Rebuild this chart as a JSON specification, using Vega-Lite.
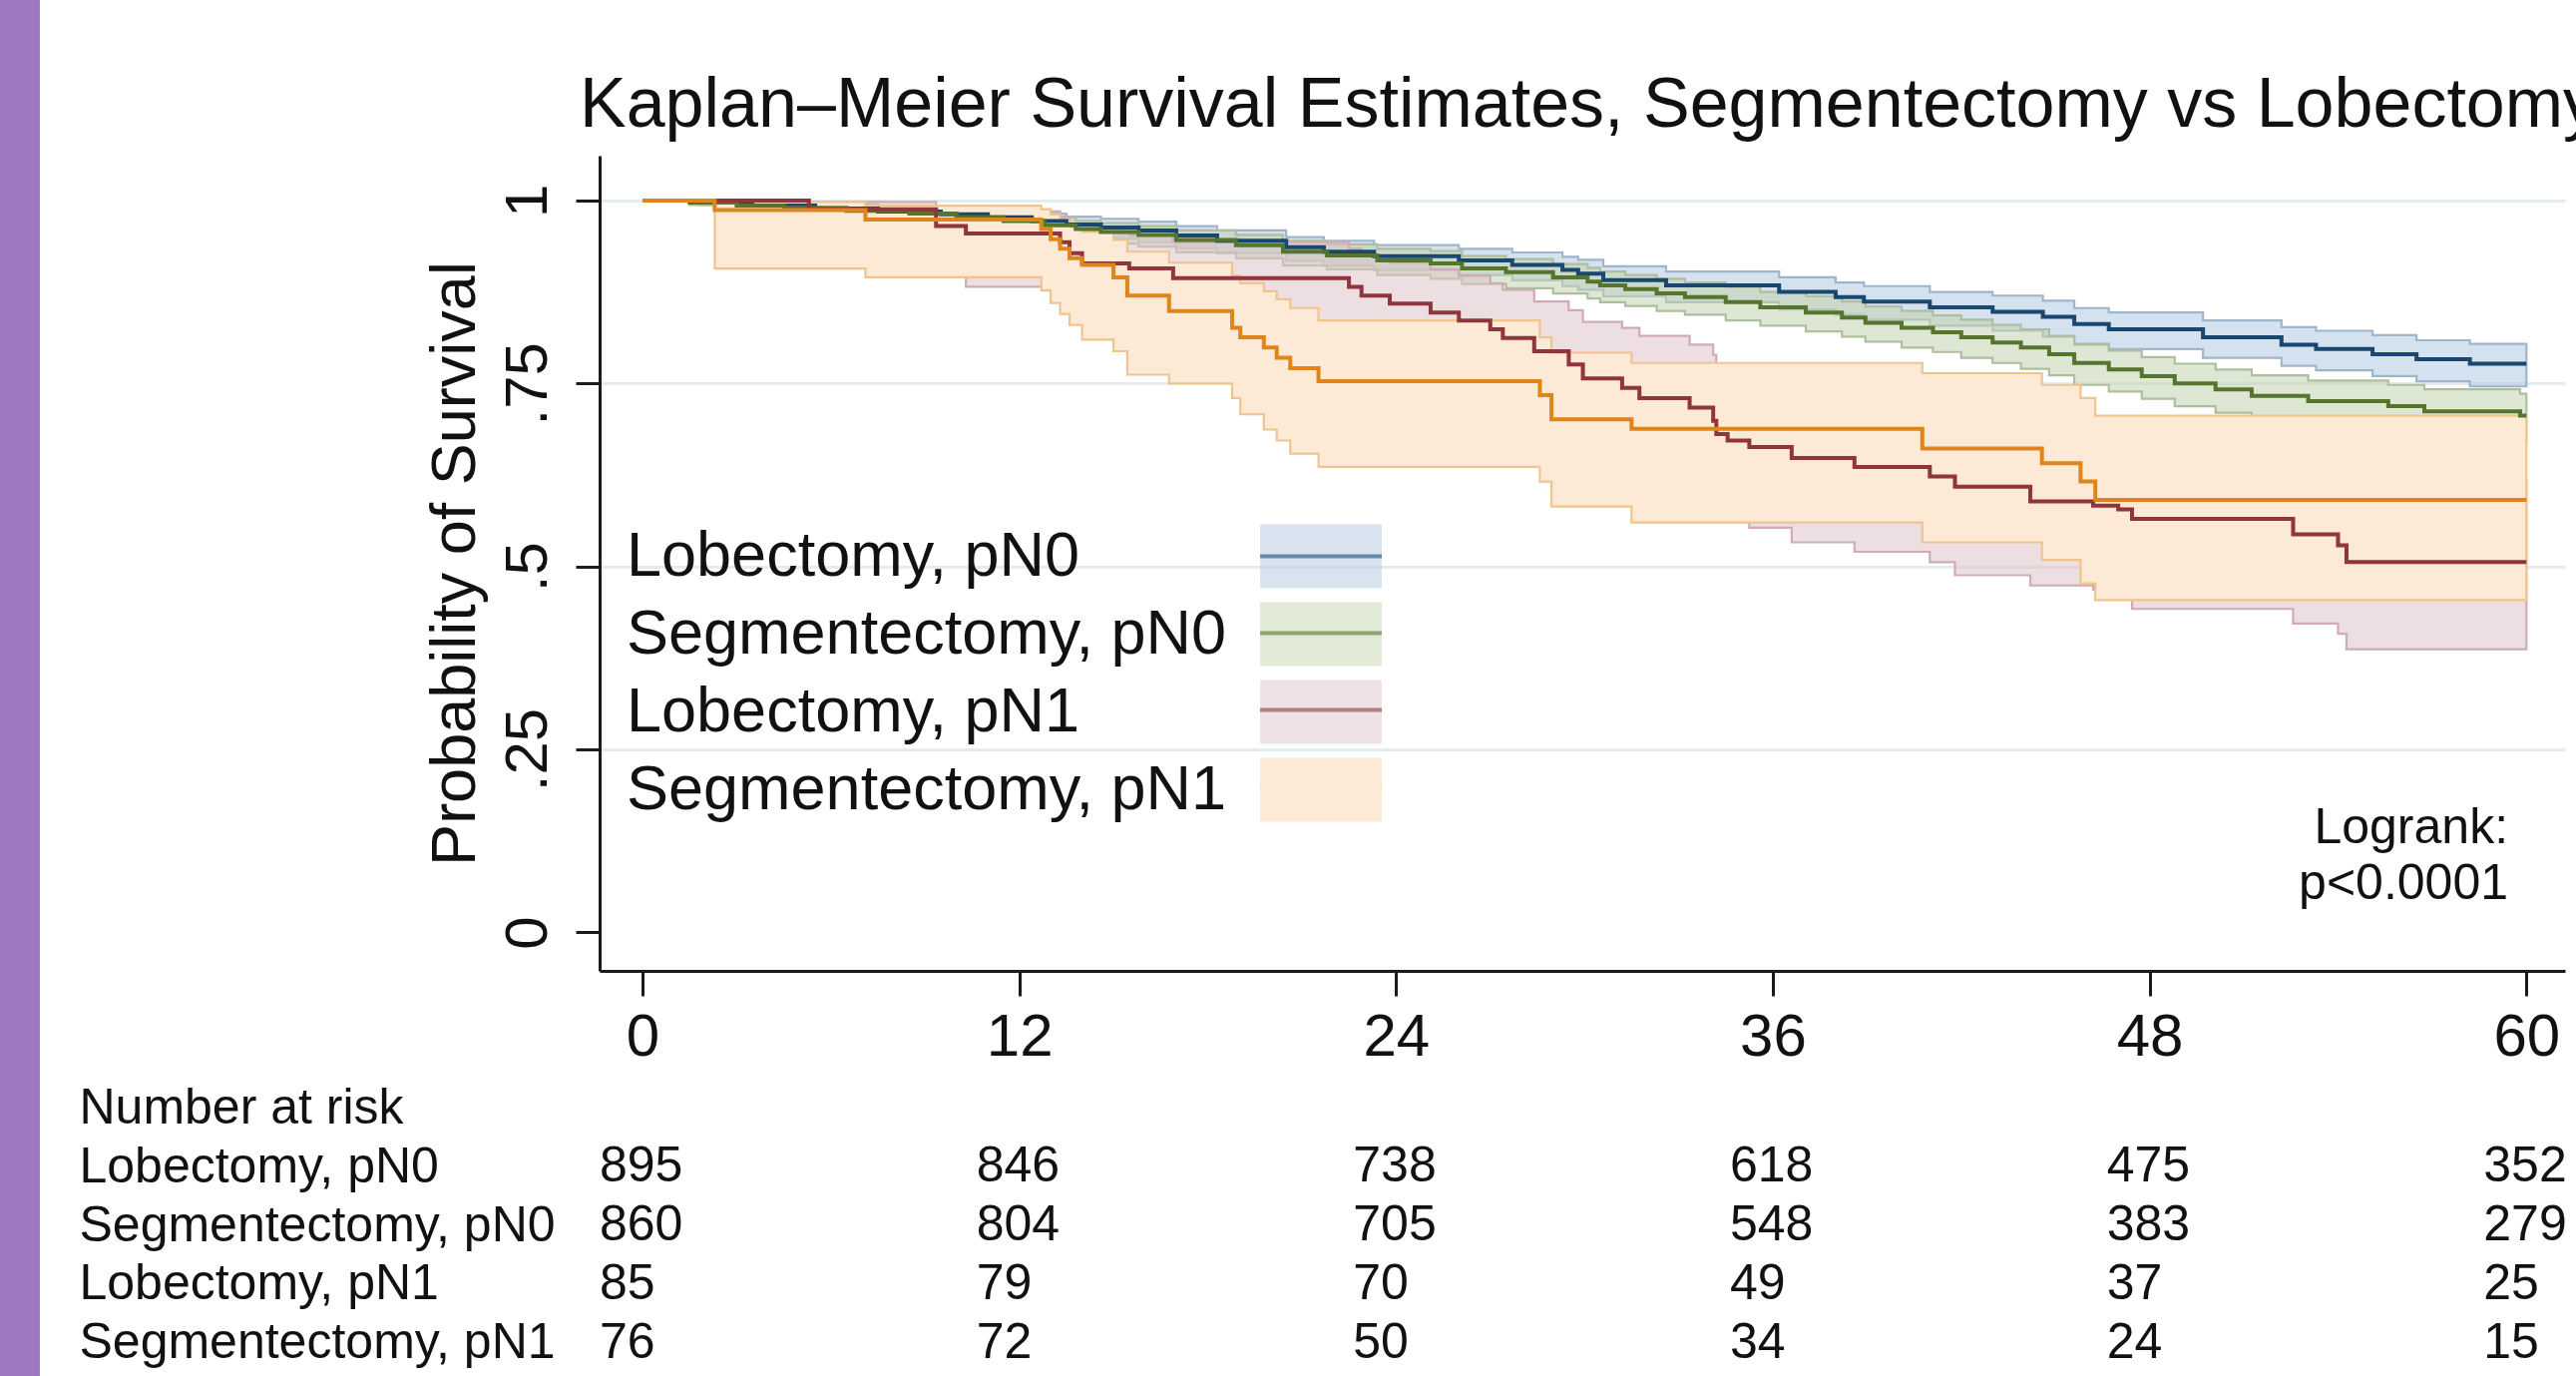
{
  "$schema": "https://vega.github.io/schema/vega-lite/v6.json",
  "autosize": {"type": "none"},
  "padding": {"left": 601, "top": 156, "right": 1981, "bottom": 1223},
  "background": "#ffffff",
  "bounds": "flush",
  "spacing": 108,
  "config": {
    "font": "Liberation Sans",
    "view": {"stroke": null},
    "text": {"font": "Liberation Sans"},
    "axis": {"labelFont": "Liberation Sans", "titleFont": "Liberation Sans"},
    "legend": {"labelFont": "Liberation Sans"},
    "title": {"font": "Liberation Sans"}
  },
  "resolve": {"scale": {"x": "independent", "y": "independent"}},
  "datasets": {
    "km": [
      {"g":"Lobectomy, pN0","t":0,"s":1,"lo":1,"hi":1},
      {"g":"Lobectomy, pN0","t":1.8,"s":0.997,"lo":0.994,"hi":0.999},
      {"g":"Lobectomy, pN0","t":3.5,"s":0.993,"lo":0.988,"hi":0.997},
      {"g":"Lobectomy, pN0","t":5.5,"s":0.989,"lo":0.981,"hi":0.995},
      {"g":"Lobectomy, pN0","t":7.5,"s":0.985,"lo":0.976,"hi":0.992},
      {"g":"Lobectomy, pN0","t":9.5,"s":0.981,"lo":0.970,"hi":0.989},
      {"g":"Lobectomy, pN0","t":11,"s":0.977,"lo":0.965,"hi":0.986},
      {"g":"Lobectomy, pN0","t":12.4,"s":0.972,"lo":0.959,"hi":0.982},
      {"g":"Lobectomy, pN0","t":13.5,"s":0.967,"lo":0.953,"hi":0.978},
      {"g":"Lobectomy, pN0","t":14.6,"s":0.963,"lo":0.948,"hi":0.975},
      {"g":"Lobectomy, pN0","t":15.8,"s":0.959,"lo":0.943,"hi":0.971},
      {"g":"Lobectomy, pN0","t":17,"s":0.952,"lo":0.935,"hi":0.965},
      {"g":"Lobectomy, pN0","t":18.3,"s":0.945,"lo":0.928,"hi":0.959},
      {"g":"Lobectomy, pN0","t":20.5,"s":0.936,"lo":0.918,"hi":0.950},
      {"g":"Lobectomy, pN0","t":21.7,"s":0.930,"lo":0.911,"hi":0.945},
      {"g":"Lobectomy, pN0","t":23.3,"s":0.924,"lo":0.905,"hi":0.939},
      {"g":"Lobectomy, pN0","t":26,"s":0.918,"lo":0.898,"hi":0.934},
      {"g":"Lobectomy, pN0","t":27.7,"s":0.912,"lo":0.891,"hi":0.929},
      {"g":"Lobectomy, pN0","t":29.3,"s":0.905,"lo":0.883,"hi":0.923},
      {"g":"Lobectomy, pN0","t":29.8,"s":0.900,"lo":0.878,"hi":0.919},
      {"g":"Lobectomy, pN0","t":30.6,"s":0.891,"lo":0.869,"hi":0.910},
      {"g":"Lobectomy, pN0","t":32.6,"s":0.884,"lo":0.861,"hi":0.903},
      {"g":"Lobectomy, pN0","t":36.2,"s":0.875,"lo":0.851,"hi":0.895},
      {"g":"Lobectomy, pN0","t":38,"s":0.868,"lo":0.844,"hi":0.888},
      {"g":"Lobectomy, pN0","t":38.9,"s":0.862,"lo":0.837,"hi":0.883},
      {"g":"Lobectomy, pN0","t":41,"s":0.854,"lo":0.829,"hi":0.875},
      {"g":"Lobectomy, pN0","t":43,"s":0.848,"lo":0.822,"hi":0.870},
      {"g":"Lobectomy, pN0","t":44.6,"s":0.841,"lo":0.814,"hi":0.863},
      {"g":"Lobectomy, pN0","t":45.6,"s":0.831,"lo":0.804,"hi":0.853},
      {"g":"Lobectomy, pN0","t":46.7,"s":0.824,"lo":0.797,"hi":0.847},
      {"g":"Lobectomy, pN0","t":49.7,"s":0.813,"lo":0.785,"hi":0.836},
      {"g":"Lobectomy, pN0","t":52.2,"s":0.803,"lo":0.774,"hi":0.827},
      {"g":"Lobectomy, pN0","t":53.3,"s":0.797,"lo":0.768,"hi":0.822},
      {"g":"Lobectomy, pN0","t":55.1,"s":0.790,"lo":0.760,"hi":0.816},
      {"g":"Lobectomy, pN0","t":56.5,"s":0.783,"lo":0.753,"hi":0.809},
      {"g":"Lobectomy, pN0","t":58.2,"s":0.777,"lo":0.746,"hi":0.804},
      {"g":"Lobectomy, pN0","t":60,"s":0.777,"lo":0.746,"hi":0.804},

      {"g":"Segmentectomy, pN0","t":0,"s":1,"lo":1,"hi":1},
      {"g":"Segmentectomy, pN0","t":1.5,"s":0.997,"lo":0.994,"hi":0.999},
      {"g":"Segmentectomy, pN0","t":3,"s":0.993,"lo":0.988,"hi":0.997},
      {"g":"Segmentectomy, pN0","t":4.5,"s":0.990,"lo":0.983,"hi":0.995},
      {"g":"Segmentectomy, pN0","t":6.5,"s":0.986,"lo":0.978,"hi":0.992},
      {"g":"Segmentectomy, pN0","t":8.5,"s":0.982,"lo":0.972,"hi":0.990},
      {"g":"Segmentectomy, pN0","t":10,"s":0.977,"lo":0.965,"hi":0.986},
      {"g":"Segmentectomy, pN0","t":11.5,"s":0.972,"lo":0.959,"hi":0.982},
      {"g":"Segmentectomy, pN0","t":12.8,"s":0.966,"lo":0.952,"hi":0.977},
      {"g":"Segmentectomy, pN0","t":13.8,"s":0.961,"lo":0.946,"hi":0.972},
      {"g":"Segmentectomy, pN0","t":14.6,"s":0.957,"lo":0.941,"hi":0.969},
      {"g":"Segmentectomy, pN0","t":15.8,"s":0.953,"lo":0.937,"hi":0.965},
      {"g":"Segmentectomy, pN0","t":17,"s":0.946,"lo":0.929,"hi":0.959},
      {"g":"Segmentectomy, pN0","t":18.9,"s":0.939,"lo":0.921,"hi":0.953},
      {"g":"Segmentectomy, pN0","t":20.4,"s":0.930,"lo":0.911,"hi":0.945},
      {"g":"Segmentectomy, pN0","t":21.8,"s":0.925,"lo":0.906,"hi":0.940},
      {"g":"Segmentectomy, pN0","t":23.4,"s":0.918,"lo":0.898,"hi":0.934},
      {"g":"Segmentectomy, pN0","t":25.1,"s":0.914,"lo":0.893,"hi":0.931},
      {"g":"Segmentectomy, pN0","t":26.1,"s":0.907,"lo":0.886,"hi":0.924},
      {"g":"Segmentectomy, pN0","t":27.5,"s":0.902,"lo":0.880,"hi":0.920},
      {"g":"Segmentectomy, pN0","t":29,"s":0.895,"lo":0.873,"hi":0.913},
      {"g":"Segmentectomy, pN0","t":30.1,"s":0.889,"lo":0.866,"hi":0.908},
      {"g":"Segmentectomy, pN0","t":30.5,"s":0.884,"lo":0.861,"hi":0.903},
      {"g":"Segmentectomy, pN0","t":31.3,"s":0.879,"lo":0.856,"hi":0.898},
      {"g":"Segmentectomy, pN0","t":32.3,"s":0.873,"lo":0.849,"hi":0.893},
      {"g":"Segmentectomy, pN0","t":33.2,"s":0.868,"lo":0.844,"hi":0.888},
      {"g":"Segmentectomy, pN0","t":34.5,"s":0.861,"lo":0.836,"hi":0.882},
      {"g":"Segmentectomy, pN0","t":35.6,"s":0.854,"lo":0.829,"hi":0.875},
      {"g":"Segmentectomy, pN0","t":37.05,"s":0.847,"lo":0.821,"hi":0.869},
      {"g":"Segmentectomy, pN0","t":38.2,"s":0.840,"lo":0.814,"hi":0.862},
      {"g":"Segmentectomy, pN0","t":38.95,"s":0.833,"lo":0.807,"hi":0.855},
      {"g":"Segmentectomy, pN0","t":40.1,"s":0.826,"lo":0.799,"hi":0.849},
      {"g":"Segmentectomy, pN0","t":41.1,"s":0.820,"lo":0.793,"hi":0.843},
      {"g":"Segmentectomy, pN0","t":42,"s":0.813,"lo":0.785,"hi":0.837},
      {"g":"Segmentectomy, pN0","t":43,"s":0.806,"lo":0.778,"hi":0.830},
      {"g":"Segmentectomy, pN0","t":43.9,"s":0.799,"lo":0.770,"hi":0.824},
      {"g":"Segmentectomy, pN0","t":44.8,"s":0.790,"lo":0.761,"hi":0.815},
      {"g":"Segmentectomy, pN0","t":45.6,"s":0.778,"lo":0.748,"hi":0.803},
      {"g":"Segmentectomy, pN0","t":46.7,"s":0.769,"lo":0.739,"hi":0.795},
      {"g":"Segmentectomy, pN0","t":47.75,"s":0.760,"lo":0.729,"hi":0.786},
      {"g":"Segmentectomy, pN0","t":48.8,"s":0.750,"lo":0.719,"hi":0.777},
      {"g":"Segmentectomy, pN0","t":50.1,"s":0.742,"lo":0.710,"hi":0.769},
      {"g":"Segmentectomy, pN0","t":51.25,"s":0.733,"lo":0.701,"hi":0.761},
      {"g":"Segmentectomy, pN0","t":53.05,"s":0.726,"lo":0.693,"hi":0.754},
      {"g":"Segmentectomy, pN0","t":55.6,"s":0.719,"lo":0.685,"hi":0.748},
      {"g":"Segmentectomy, pN0","t":56.75,"s":0.712,"lo":0.678,"hi":0.742},
      {"g":"Segmentectomy, pN0","t":59.8,"s":0.706,"lo":0.671,"hi":0.736},
      {"g":"Segmentectomy, pN0","t":60,"s":0.706,"lo":0.671,"hi":0.736},

      {"g":"Lobectomy, pN1","t":0,"s":1,"lo":1,"hi":1},
      {"g":"Lobectomy, pN1","t":5.3,"s":0.988,"lo":0.920,"hi":0.998},
      {"g":"Lobectomy, pN1","t":9.35,"s":0.965,"lo":0.895,"hi":0.990},
      {"g":"Lobectomy, pN1","t":10.3,"s":0.955,"lo":0.882,"hi":0.985},
      {"g":"Lobectomy, pN1","t":13.3,"s":0.943,"lo":0.868,"hi":0.978},
      {"g":"Lobectomy, pN1","t":13.6,"s":0.928,"lo":0.851,"hi":0.968},
      {"g":"Lobectomy, pN1","t":14,"s":0.914,"lo":0.835,"hi":0.958},
      {"g":"Lobectomy, pN1","t":15.5,"s":0.907,"lo":0.827,"hi":0.953},
      {"g":"Lobectomy, pN1","t":16.9,"s":0.894,"lo":0.812,"hi":0.943},
      {"g":"Lobectomy, pN1","t":22.5,"s":0.882,"lo":0.799,"hi":0.934},
      {"g":"Lobectomy, pN1","t":22.9,"s":0.870,"lo":0.785,"hi":0.924},
      {"g":"Lobectomy, pN1","t":23.8,"s":0.859,"lo":0.772,"hi":0.915},
      {"g":"Lobectomy, pN1","t":25.1,"s":0.847,"lo":0.759,"hi":0.906},
      {"g":"Lobectomy, pN1","t":26,"s":0.836,"lo":0.747,"hi":0.897},
      {"g":"Lobectomy, pN1","t":27,"s":0.824,"lo":0.734,"hi":0.887},
      {"g":"Lobectomy, pN1","t":27.4,"s":0.812,"lo":0.721,"hi":0.878},
      {"g":"Lobectomy, pN1","t":28.4,"s":0.794,"lo":0.702,"hi":0.862},
      {"g":"Lobectomy, pN1","t":29.5,"s":0.776,"lo":0.682,"hi":0.850},
      {"g":"Lobectomy, pN1","t":29.95,"s":0.757,"lo":0.662,"hi":0.834},
      {"g":"Lobectomy, pN1","t":31.2,"s":0.744,"lo":0.648,"hi":0.826},
      {"g":"Lobectomy, pN1","t":31.75,"s":0.730,"lo":0.634,"hi":0.815},
      {"g":"Lobectomy, pN1","t":33.35,"s":0.717,"lo":0.620,"hi":0.803},
      {"g":"Lobectomy, pN1","t":34.1,"s":0.699,"lo":0.601,"hi":0.789},
      {"g":"Lobectomy, pN1","t":34.2,"s":0.681,"lo":0.582,"hi":0.773},
      {"g":"Lobectomy, pN1","t":34.56,"s":0.672,"lo":0.573,"hi":0.765},
      {"g":"Lobectomy, pN1","t":35.25,"s":0.663,"lo":0.553,"hi":0.757},
      {"g":"Lobectomy, pN1","t":36.6,"s":0.648,"lo":0.533,"hi":0.744},
      {"g":"Lobectomy, pN1","t":38.6,"s":0.636,"lo":0.520,"hi":0.734},
      {"g":"Lobectomy, pN1","t":41,"s":0.623,"lo":0.506,"hi":0.722},
      {"g":"Lobectomy, pN1","t":41.8,"s":0.609,"lo":0.488,"hi":0.710},
      {"g":"Lobectomy, pN1","t":44.2,"s":0.589,"lo":0.474,"hi":0.692},
      {"g":"Lobectomy, pN1","t":46.2,"s":0.583,"lo":0.468,"hi":0.686},
      {"g":"Lobectomy, pN1","t":47,"s":0.578,"lo":0.462,"hi":0.682},
      {"g":"Lobectomy, pN1","t":47.44,"s":0.565,"lo":0.442,"hi":0.670},
      {"g":"Lobectomy, pN1","t":52.57,"s":0.544,"lo":0.422,"hi":0.652},
      {"g":"Lobectomy, pN1","t":54,"s":0.529,"lo":0.408,"hi":0.638},
      {"g":"Lobectomy, pN1","t":54.27,"s":0.506,"lo":0.387,"hi":0.617},
      {"g":"Lobectomy, pN1","t":60,"s":0.506,"lo":0.387,"hi":0.617},

      {"g":"Segmentectomy, pN1","t":0,"s":1,"lo":1,"hi":1},
      {"g":"Segmentectomy, pN1","t":2.3,"s":0.987,"lo":0.907,"hi":0.998},
      {"g":"Segmentectomy, pN1","t":7.1,"s":0.974,"lo":0.895,"hi":0.993},
      {"g":"Segmentectomy, pN1","t":12.7,"s":0.961,"lo":0.877,"hi":0.988},
      {"g":"Segmentectomy, pN1","t":13,"s":0.947,"lo":0.860,"hi":0.981},
      {"g":"Segmentectomy, pN1","t":13.3,"s":0.934,"lo":0.845,"hi":0.973},
      {"g":"Segmentectomy, pN1","t":13.6,"s":0.921,"lo":0.830,"hi":0.964},
      {"g":"Segmentectomy, pN1","t":14,"s":0.912,"lo":0.810,"hi":0.957},
      {"g":"Segmentectomy, pN1","t":15,"s":0.895,"lo":0.794,"hi":0.946},
      {"g":"Segmentectomy, pN1","t":15.44,"s":0.870,"lo":0.762,"hi":0.930},
      {"g":"Segmentectomy, pN1","t":16.77,"s":0.849,"lo":0.750,"hi":0.915},
      {"g":"Segmentectomy, pN1","t":18.78,"s":0.826,"lo":0.730,"hi":0.897},
      {"g":"Segmentectomy, pN1","t":19.04,"s":0.813,"lo":0.708,"hi":0.887},
      {"g":"Segmentectomy, pN1","t":19.79,"s":0.799,"lo":0.687,"hi":0.876},
      {"g":"Segmentectomy, pN1","t":20.2,"s":0.785,"lo":0.672,"hi":0.865},
      {"g":"Segmentectomy, pN1","t":20.63,"s":0.771,"lo":0.654,"hi":0.853},
      {"g":"Segmentectomy, pN1","t":21.53,"s":0.753,"lo":0.636,"hi":0.836},
      {"g":"Segmentectomy, pN1","t":28.58,"s":0.734,"lo":0.616,"hi":0.813},
      {"g":"Segmentectomy, pN1","t":28.95,"s":0.701,"lo":0.582,"hi":0.792},
      {"g":"Segmentectomy, pN1","t":31.5,"s":0.688,"lo":0.560,"hi":0.778},
      {"g":"Segmentectomy, pN1","t":40.76,"s":0.661,"lo":0.533,"hi":0.764},
      {"g":"Segmentectomy, pN1","t":44.57,"s":0.641,"lo":0.509,"hi":0.748},
      {"g":"Segmentectomy, pN1","t":45.8,"s":0.616,"lo":0.477,"hi":0.730},
      {"g":"Segmentectomy, pN1","t":46.27,"s":0.591,"lo":0.454,"hi":0.706},
      {"g":"Segmentectomy, pN1","t":60,"s":0.591,"lo":0.454,"hi":0.706}
    ],
    "risk": [
      {"g":"Lobectomy, pN0","time":0,"n":895},{"g":"Lobectomy, pN0","time":12,"n":846},{"g":"Lobectomy, pN0","time":24,"n":738},{"g":"Lobectomy, pN0","time":36,"n":618},{"g":"Lobectomy, pN0","time":48,"n":475},{"g":"Lobectomy, pN0","time":60,"n":352},
      {"g":"Segmentectomy, pN0","time":0,"n":860},{"g":"Segmentectomy, pN0","time":12,"n":804},{"g":"Segmentectomy, pN0","time":24,"n":705},{"g":"Segmentectomy, pN0","time":36,"n":548},{"g":"Segmentectomy, pN0","time":48,"n":383},{"g":"Segmentectomy, pN0","time":60,"n":279},
      {"g":"Lobectomy, pN1","time":0,"n":85},{"g":"Lobectomy, pN1","time":12,"n":79},{"g":"Lobectomy, pN1","time":24,"n":70},{"g":"Lobectomy, pN1","time":36,"n":49},{"g":"Lobectomy, pN1","time":48,"n":37},{"g":"Lobectomy, pN1","time":60,"n":25},
      {"g":"Segmentectomy, pN1","time":0,"n":76},{"g":"Segmentectomy, pN1","time":12,"n":72},{"g":"Segmentectomy, pN1","time":24,"n":50},{"g":"Segmentectomy, pN1","time":36,"n":34},{"g":"Segmentectomy, pN1","time":48,"n":24},{"g":"Segmentectomy, pN1","time":60,"n":15}
    ]
  },
  "vconcat": [
    {
      "width": 1970,
      "height": 817,
      "title": {
        "text": "Kaplan–Meier Survival Estimates, Segmentectomy vs Lobectomy",
        "anchor": "start", "frame": "group", "dx": -20, "offset": -197, "baseline": "alphabetic",
        "fontSize": 70, "fontWeight": "normal", "color": "#111111", "font": "Liberation Sans", "limit": 4000
      },
      "resolve": {"scale": {"stroke": "independent"}},
      "layer": [
        {
          "data": {"values": [{}]},
          "mark": {"type": "rect", "color": "#9f78c2"},
          "encoding": {
            "x": {"datum": -20.463}, "x2": {"datum": -19.192},
            "y": {"datum": 1.27385}, "y2": {"datum": -0.65}
          }
        },
        {
          "data": {"name": "km"},
          "transform": [{"filter": "datum.g !== 'Segmentectomy, pN1'"}],
          "mark": {"type": "area", "interpolate": "step-after", "strokeWidth": 2.2, "fillOpacity": 0.55},
          "encoding": {
            "x": {
              "field": "t", "type": "quantitative",
              "scale": {"domain": [-1.366, 61.23], "nice": false, "zero": false},
              "axis": {
                "title": null, "values": [0, 12, 24, 36, 48, 60], "grid": false,
                "domainColor": "#1b1b1b", "domainWidth": 3, "tickColor": "#1b1b1b", "tickWidth": 3, "tickSize": 25,
                "labelFontSize": 60, "labelPadding": 12, "labelColor": "#111111", "labelFlush": false, "labelOverlap": false
              }
            },
            "y": {
              "field": "lo", "type": "quantitative",
              "scale": {"domain": [-0.0525, 1.0612], "nice": false, "zero": false},
              "axis": {
                "title": "Probability of Survival", "values": [0, 0.25, 0.5, 0.75, 1],
                "labelExpr": "replace(toString(datum.value), '0.', '.')",
                "labelAngle": 270, "labelAlign": "center", "labelBaseline": "bottom",
                "labelFontSize": 60, "labelPadding": 17, "labelColor": "#111111", "labelFlush": false, "labelOverlap": false,
                "tickSize": 24, "tickWidth": 3, "tickColor": "#1b1b1b",
                "domainColor": "#1b1b1b", "domainWidth": 3,
                "grid": true, "gridColor": "#e4ecef", "gridWidth": 3,
                "gridOpacity": {"condition": {"test": "datum.value === 0", "value": 0}, "value": 1},
                "titleFontSize": 63, "titleFontWeight": "normal", "titleColor": "#111111", "titlePadding": 11,
                "titleAngle": 270, "titleBaseline": "bottom"
              }
            },
            "y2": {"field": "hi"},
            "fill": {
              "field": "g", "type": "nominal",
              "scale": {
                "domain": ["Lobectomy, pN0", "Segmentectomy, pN0", "Lobectomy, pN1", "Segmentectomy, pN1"],
                "range": ["#b1c8e0", "#c3d3af", "#dec3c8", "#fce9d6"]
              },
              "legend": {
                "orient": "none", "legendX": 691.5, "legendY": 370, "title": null, "padding": 0,
                "symbolType": "M-2.1,-1.1H2.1V1.1H-2.1Z", "symbolSize": 3364, "symbolStrokeWidth": 0,
                "labelFontSize": 63, "labelColor": "#111111", "labelOffset": -727.5, "labelAlign": "left",
                "labelLimit": 0, "rowPadding": 13,
                "encode": {"symbols": {"update": {"fillOpacity": {"signal": "datum.value === 'Segmentectomy, pN1' ? 1 : 0.5"}, "opacity": {"value": 1}}}}
              }
            },
            "stroke": {
              "field": "g", "type": "nominal",
              "scale": {
                "domain": ["Lobectomy, pN0", "Segmentectomy, pN0", "Lobectomy, pN1", "Segmentectomy, pN1"],
                "range": ["#9fb5cb", "#aebe9e", "#d0abb3", "#f0c48f"]
              },
              "legend": null
            }
          }
        },
        {
          "data": {"name": "km"},
          "transform": [{"filter": "datum.g === 'Segmentectomy, pN1'"}],
          "mark": {"type": "area", "interpolate": "step-after", "strokeWidth": 2.2, "fillOpacity": 1},
          "encoding": {
            "x": {"field": "t", "type": "quantitative"},
            "y": {"field": "lo", "type": "quantitative"},
            "y2": {"field": "hi"},
            "fill": {
              "field": "g", "type": "nominal",
              "scale": {
                "domain": ["Lobectomy, pN0", "Segmentectomy, pN0", "Lobectomy, pN1", "Segmentectomy, pN1"],
                "range": ["#b1c8e0", "#c3d3af", "#dec3c8", "#fce9d6"]
              },
              "legend": {
                "orient": "none", "legendX": 691.5, "legendY": 370, "title": null, "padding": 0,
                "symbolType": "M-2.1,-1.1H2.1V1.1H-2.1Z", "symbolSize": 3364, "symbolStrokeWidth": 0,
                "labelFontSize": 63, "labelColor": "#111111", "labelOffset": -727.5, "labelAlign": "left",
                "labelLimit": 0, "rowPadding": 13,
                "encode": {"symbols": {"update": {"fillOpacity": {"signal": "datum.value === 'Segmentectomy, pN1' ? 1 : 0.5"}, "opacity": {"value": 1}}}}
              }
            },
            "stroke": {
              "field": "g", "type": "nominal",
              "scale": {
                "domain": ["Lobectomy, pN0", "Segmentectomy, pN0", "Lobectomy, pN1", "Segmentectomy, pN1"],
                "range": ["#9fb5cb", "#aebe9e", "#d0abb3", "#f0c48f"]
              },
              "legend": null
            }
          }
        },
        {
          "data": {"name": "km"},
          "mark": {"type": "line", "interpolate": "step-after", "strokeWidth": 4},
          "encoding": {
            "x": {"field": "t", "type": "quantitative"},
            "y": {"field": "s", "type": "quantitative"},
            "stroke": {
              "field": "g", "type": "nominal",
              "scale": {
                "domain": ["Lobectomy, pN0", "Segmentectomy, pN0", "Lobectomy, pN1", "Segmentectomy, pN1"],
                "range": ["#1a476f", "#55752f", "#90353b", "#e0841c"]
              },
              "legend": {
                "orient": "none", "legendX": 691.5, "legendY": 370, "title": null, "padding": 0,
                "symbolType": "M-2.1,0H2.1", "symbolSize": 3364, "symbolStrokeWidth": 4, "symbolFillColor": "transparent",
                "labelFontSize": 63, "labelOpacity": 0, "labelOffset": -727.5, "labelAlign": "left",
                "labelLimit": 0, "rowPadding": 13
              }
            }
          }
        },
        {
          "data": {"values": [{"note": "Logrank:\np<0.0001"}]},
          "mark": {"type": "text", "align": "right", "baseline": "alphabetic", "fontSize": 50, "lineHeight": 56, "lineBreak": "\n", "color": "#111111"},
          "encoding": {
            "x": {"datum": 59.42},
            "y": {"datum": 0.122},
            "text": {"field": "note"}
          }
        }
      ]
    },
    {
      "width": 1970,
      "height": 294,
      "data": {"name": "risk"},
      "mark": {"type": "text", "align": "left", "baseline": "middle", "dx": -43, "fontSize": 50, "color": "#111111"},
      "encoding": {
        "x": {"field": "time", "type": "quantitative", "scale": {"domain": [-1.366, 61.23], "nice": false, "zero": false}, "axis": null},
        "y": {
          "field": "g", "type": "nominal",
          "scale": {"type": "point", "padding": 0.5, "domain": ["Number at risk", "Lobectomy, pN0", "Segmentectomy, pN0", "Lobectomy, pN1", "Segmentectomy, pN1"]},
          "axis": {
            "title": null, "domain": false, "ticks": false, "tickSize": 0, "grid": false,
            "labelAngle": 0, "labelAlign": "left", "labelBaseline": "middle", "labelPadding": 522,
            "labelFontSize": 50, "labelColor": "#111111", "labelLimit": 0, "labelOverlap": false
          }
        },
        "text": {"field": "n", "type": "quantitative"}
      }
    }
  ]
}
